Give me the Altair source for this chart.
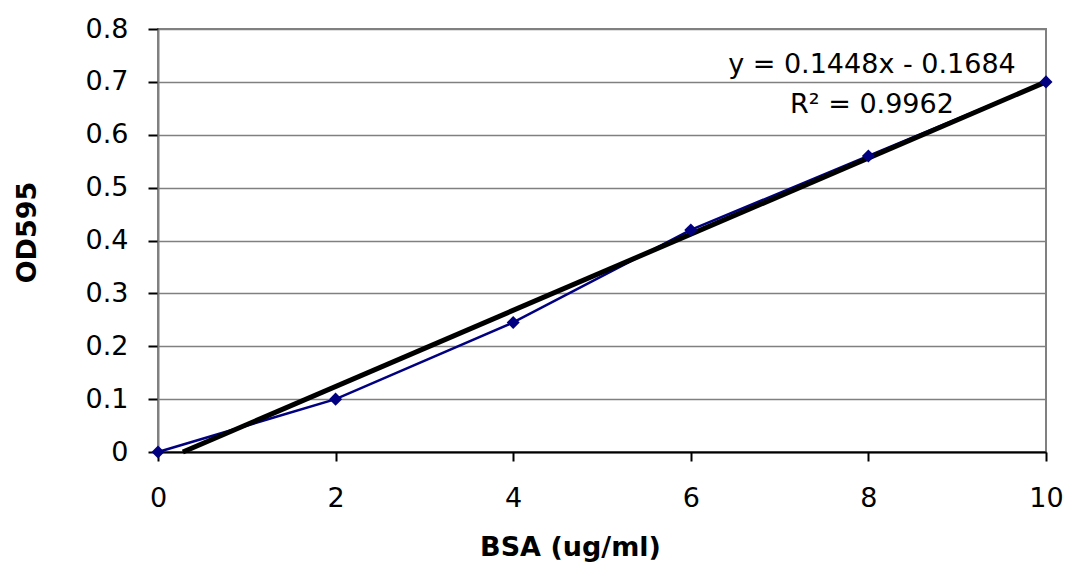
import altair as alt
import pandas as pd

# Data
bsa = [0, 2, 4, 6, 8, 10]
od595 = [0.0, 0.10, 0.245, 0.42, 0.56, 0.70]

trend_x = [0.28, 10]
trend_y = [0.0, 0.70]

ann_text = ["y = 0.1448x - 0.1684", "R² = 0.9962"]
ann_x = [8.04, 8.04]
ann_y = [0.716, 0.641]

x_ticks = [0, 2, 4, 6, 8, 10]
y_ticks = [0, 0.1, 0.2, 0.3, 0.4, 0.5, 0.6, 0.7, 0.8]

df = pd.DataFrame({"x": bsa, "y": od595})
tdf = pd.DataFrame({"x": trend_x, "y": trend_y})
adf = pd.DataFrame({"x": ann_x, "y": ann_y, "t": ann_text})

FONT = "DejaVu Sans"

xscale = alt.Scale(domain=[0, 10], nice=False, zero=False)
yscale = alt.Scale(domain=[0, 0.8], nice=False)

xaxis = alt.Axis(
    values=x_ticks, title="BSA (ug/ml)", grid=False, format="d",
    domainColor="black", domainWidth=2, tickColor="black", tickWidth=2, tickSize=9,
    labelFont=FONT, labelFontSize=27, labelColor="black", labelPadding=24,
    labelFlush=False, labelOverlap=False,
    titleFont=FONT, titleFontSize=27, titleFontWeight="bold", titleColor="black",
    titleX=412, titleY=103, titleAlign="center", titleBaseline="alphabetic",
)
yaxis = alt.Axis(
    values=y_ticks, title="OD595", format=".1~f",
    grid=True, gridColor="#808080", gridWidth=1.5,
    domainColor="#808080", domainWidth=2, tickColor="black", tickWidth=2, tickSize=10,
    labelFont=FONT, labelFontSize=27, labelColor="black", labelPadding=20,
    labelFlush=False, labelOverlap=False,
    titleFont=FONT, titleFontSize=27, titleFontWeight="bold", titleColor="black",
    titleX=-123, titleY=203, titleAngle=270, titleAlign="center", titleBaseline="alphabetic",
)

base = alt.Chart(df)

series_line = base.mark_line(color="#000080", strokeWidth=2.5).encode(
    x=alt.X("x:Q", scale=xscale, axis=xaxis),
    y=alt.Y("y:Q", scale=yscale, axis=yaxis),
)

trend = alt.Chart(tdf).mark_line(color="black", strokeWidth=5).encode(
    x=alt.X("x:Q", scale=xscale),
    y=alt.Y("y:Q", scale=yscale),
)

points = base.mark_point(shape="diamond", filled=True, color="#000080", size=170, opacity=1).encode(
    x=alt.X("x:Q", scale=xscale),
    y=alt.Y("y:Q", scale=yscale),
)

ann = alt.Chart(adf).mark_text(
    font=FONT, fontSize=27, color="black", align="center", baseline="alphabetic"
).encode(
    x=alt.X("x:Q", scale=xscale),
    y=alt.Y("y:Q", scale=yscale),
    text="t:N",
)

chart = alt.layer(series_line, trend, points, ann).properties(
    width=888, height=423,
    autosize=alt.AutoSizeParams(type="none"),
    padding={"left": 158, "top": 29, "right": 23, "bottom": 110},
    background="white",
).configure_view(stroke="#808080", strokeWidth=2)

chart.save("out.html", embed_options={"renderer": "svg", "actions": False})
